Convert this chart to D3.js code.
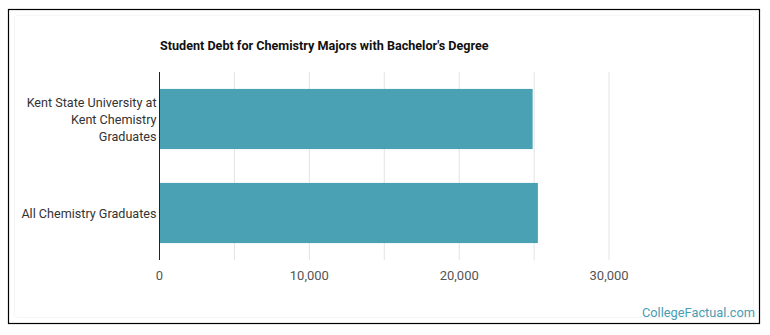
<!DOCTYPE html>
<html>
<head>
<meta charset="utf-8">
<script src="https://cdn.jsdelivr.net/npm/d3@7"></script>
<style>
    body { margin: 0; background: #fff; font-family: Roboto, "Open Sans", sans-serif; }
</style>
</head>
<body>
<div id="chart"></div>
<script>
// Chart data
const categories = ["Kent State University at Kent Chemistry Graduates", "All Chemistry Graduates"];
const labelLines = [["Kent State University at", "Kent Chemistry", "Graduates"], ["All Chemistry Graduates"]];
const debtValues = [24900, 25250];
const tickValues = [0, 10000, 20000, 30000];
const gridValues = [0, 5000, 10000, 15000, 20000, 25000, 30000];

const width = 770, height = 335;
const margin = { left: 159.5, right: 86, top: 72, bottom: 75 };

const svg = d3.select("#chart").append("svg")
    .attr("width", width)
    .attr("height", height);

// outer frame
svg.append("rect")
    .attr("x", 8.5).attr("y", 9.5)
    .attr("width", 751).attr("height", 314)
    .attr("fill", "#fff")
    .attr("stroke", "#000")
    .attr("stroke-width", 1.2);

svg.append("rect")
    .attr("x", 14.5).attr("y", 15.5)
    .attr("width", 739).attr("height", 302)
    .attr("rx", 3)
    .attr("fill", "none")
    .attr("stroke", "#f5f5f5");

const x = d3.scaleLinear()
    .domain([0, 35000])
    .range([margin.left, width - margin.right]);

const y = d3.scaleBand()
    .domain(categories)
    .range([margin.top, height - margin.bottom])
    .paddingInner(0.36)
    .paddingOuter(0.18);

// grid lines
svg.append("g")
    .selectAll("line")
    .data(gridValues.slice(1))
    .enter().append("line")
    .attr("x1", d => x(d)).attr("x2", d => x(d))
    .attr("y1", margin.top).attr("y2", height - margin.bottom)
    .attr("stroke", "#e3e3e3")
    .attr("stroke-width", 1);

// bars
svg.append("g")
    .selectAll("rect")
    .data(categories)
    .enter().append("rect")
    .attr("x", x(0))
    .attr("y", d => y(d))
    .attr("width", (d, i) => x(debtValues[i]) - x(0))
    .attr("height", y.bandwidth())
    .attr("fill", "#4aa1b4");

// y axis line
svg.append("line")
    .attr("x1", x(0)).attr("x2", x(0))
    .attr("y1", margin.top).attr("y2", height - margin.bottom)
    .attr("stroke", "#222")
    .attr("stroke-width", 1);

// category labels
const lab = svg.append("g")
    .selectAll("text")
    .data(categories)
    .enter().append("text")
    .attr("text-anchor", "end")
    .attr("font-size", 12.6)
    .attr("fill", "#333")
    .attr("x", x(0) - 3)
    .attr("y", (d, i) => y(d) + y.bandwidth() / 2 - (labelLines[i].length - 1) * 8.5 + 4.5);

lab.each(function (d, i) {
    d3.select(this).selectAll("tspan")
        .data(labelLines[i])
        .enter().append("tspan")
        .attr("x", x(0) - 3)
        .attr("dy", (t, j) => j === 0 ? 0 : 17)
        .text(t => t);
});

// x tick labels
svg.append("g")
    .selectAll("text")
    .data(tickValues)
    .enter().append("text")
    .attr("x", d => x(d))
    .attr("y", height - margin.bottom + 20)
    .attr("text-anchor", "middle")
    .attr("font-size", 13)
    .attr("fill", "#555")
    .text(d => d3.format(",")(d));

// title
svg.append("text")
    .attr("x", 160)
    .attr("y", 50)
    .attr("font-size", 12.6)
    .attr("font-weight", "bold")
    .attr("fill", "#111")
    .text("Student Debt for Chemistry Majors with Bachelor's Degree");

// watermark
svg.append("text")
    .attr("x", 755)
    .attr("y", 317)
    .attr("text-anchor", "end")
    .attr("font-size", 12.8)
    .attr("fill", "#4a9cb2")
    .text("CollegeFactual.com");
</script>
</body>
</html>
